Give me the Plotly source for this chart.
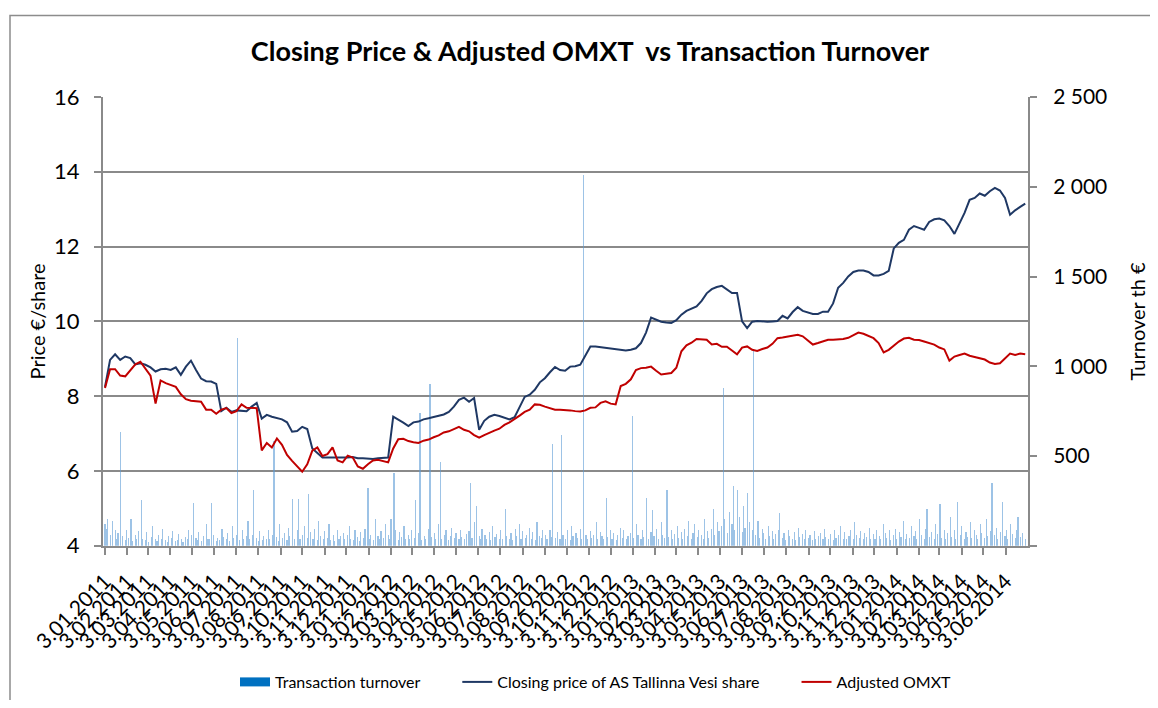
import pandas as pd
import plotly.graph_objects as go

# ---- data ----
# weekly closing price of AS Tallinna Vesi share (EUR), weeks starting 3.01.2011
price = [
    8.25, 8.97, 9.12, 8.97, 9.06, 9.02, 8.85, 8.88, 8.84, 8.77,
    8.66, 8.72, 8.73, 8.70, 8.77, 8.57, 8.79, 8.95, 8.70, 8.47,
    8.40, 8.39, 8.33, 7.60, 7.69, 7.58, 7.62, 7.62, 7.60, 7.72,
    7.82, 7.40, 7.50, 7.45, 7.42, 7.38, 7.30, 7.05, 7.07, 7.18,
    7.12, 6.60, 6.48, 6.36, 6.36, 6.36, 6.34, 6.35, 6.36, 6.37,
    6.34, 6.34, 6.33, 6.32, 6.34, 6.34, 6.36, 7.45, 7.38, 7.29,
    7.20, 7.30, 7.32, 7.38, 7.41, 7.44, 7.47, 7.51, 7.58, 7.72,
    7.90, 7.96, 7.85, 7.95, 7.10, 7.34, 7.45, 7.50, 7.47, 7.42,
    7.38, 7.44, 7.70, 7.98, 8.04, 8.17, 8.37, 8.48, 8.64, 8.78,
    8.70, 8.68, 8.79, 8.80, 8.84, 9.10, 9.33, 9.33, 9.31, 9.30,
    9.28, 9.25, 9.24, 9.22, 9.24, 9.28, 9.42, 9.70, 10.10, 10.05,
    9.99, 9.97, 9.96, 10.03, 10.18, 10.28, 10.33, 10.40, 10.55, 10.75,
    10.86, 10.92, 10.95, 10.86, 10.76, 10.76, 10.00, 9.82, 9.99, 10.01,
    10.00, 9.99, 10.00, 10.01, 10.15, 10.08, 10.25, 10.38, 10.28, 10.23,
    10.20, 10.20, 10.26, 10.26, 10.48, 10.90, 11.03, 11.20, 11.32, 11.36,
    11.36, 11.32, 11.23, 11.23, 11.27, 11.35, 11.95, 12.10, 12.18, 12.45,
    12.55, 12.50, 12.45, 12.66, 12.73, 12.75, 12.70, 12.55, 12.34, 12.62,
    12.90, 13.25, 13.30, 13.42, 13.36, 13.48, 13.57, 13.50, 13.30, 12.85,
    12.97, 13.06, 13.15,
]

# weekly adjusted OMXT (price scale)
omxt = [
    8.22, 8.72, 8.72, 8.55, 8.53, 8.70, 8.85, 8.92, 8.75, 8.55,
    7.80, 8.42, 8.35, 8.29, 8.25, 8.05, 7.92, 7.88, 7.87, 7.85,
    7.64, 7.64, 7.53, 7.64, 7.68, 7.55, 7.60, 7.78, 7.69, 7.68,
    7.68, 6.55, 6.75, 6.63, 6.87, 6.70, 6.43, 6.27, 6.12, 5.98,
    6.18, 6.54, 6.63, 6.40, 6.45, 6.63, 6.28, 6.23, 6.41, 6.36,
    6.12, 6.06, 6.18, 6.28, 6.30, 6.26, 6.23, 6.60, 6.85, 6.86,
    6.80, 6.77, 6.75, 6.81, 6.84, 6.90, 6.95, 7.03, 7.06, 7.12,
    7.18, 7.10, 7.06, 6.96, 6.89, 6.96, 7.03, 7.08, 7.13, 7.23,
    7.30, 7.38, 7.48, 7.58, 7.64, 7.78, 7.77, 7.72, 7.67, 7.64,
    7.64, 7.64, 7.62, 7.60, 7.59, 7.62, 7.69, 7.70, 7.82, 7.86,
    7.80, 7.78, 8.27, 8.33, 8.45, 8.70, 8.75, 8.76, 8.79, 8.68,
    8.58, 8.60, 8.62, 8.76, 9.20, 9.36, 9.43, 9.53, 9.51, 9.51,
    9.38, 9.40, 9.32, 9.32, 9.22, 9.12, 9.30, 9.33, 9.24, 9.21,
    9.26, 9.30, 9.40, 9.55, 9.57, 9.59, 9.62, 9.64, 9.60, 9.48,
    9.38, 9.42, 9.47, 9.51, 9.51, 9.51, 9.53, 9.56, 9.64, 9.70,
    9.67, 9.60, 9.55, 9.42, 9.17, 9.24, 9.36, 9.46, 9.54, 9.56,
    9.51, 9.50, 9.46, 9.42, 9.38, 9.30, 9.25, 8.95, 9.06, 9.10,
    9.14, 9.08, 9.05, 9.02, 8.98, 8.90, 8.86, 8.88, 9.02, 9.14,
    9.10, 9.14, 9.12,
]

# transaction turnover (th EUR), every second trading day
turnover = [
    120, 95, 150, 60, 140, 85, 40, 70, 635, 55, 30, 90, 45, 150, 25, 60, 35, 80, 254, 40,
    30, 75, 20, 50, 110, 35, 25, 60, 40, 95, 30, 20, 55, 45, 80, 25, 30, 65, 40, 20,
    50, 35, 90, 60, 240, 45, 30, 75, 25, 55, 120, 40, 35, 240, 60, 25, 45, 30, 95, 50,
    35, 70, 25, 110, 45, 60, 1160, 30, 85, 40, 55, 140, 35, 60, 310, 45, 25, 80, 30, 55,
    40, 90, 35, 60, 586, 50, 25, 120, 45, 70, 30, 100, 55, 262, 40, 85, 261, 35, 60, 110,
    45, 289, 75, 40, 95, 30, 140, 55, 35, 80, 45, 120, 30, 60, 25, 90, 40, 55, 70, 35,
    60, 110, 40, 30, 85, 50, 25, 75, 45, 95, 320, 40, 60, 30, 150, 55, 35, 80, 45, 120,
    60, 40, 150, 405, 90, 30, 75, 50, 110, 40, 60, 35, 85, 45, 254, 70, 741, 30, 55, 40,
    95, 901, 50, 70, 35, 120, 468, 40, 60, 85, 30, 55, 100, 45, 70, 35, 90, 50, 40, 65,
    80, 348, 45, 130, 221, 55, 35, 95, 60, 40, 75, 30, 110, 50, 65, 40, 85, 35, 206, 55,
    40, 70, 30, 95, 55, 120, 35, 80, 45, 60, 100, 40, 75, 30, 130, 55, 45, 85, 60, 40,
    90, 50, 566, 45, 75, 35, 615, 60, 40, 85, 30, 110, 55, 70, 45, 95, 40, 2068, 60, 35,
    80, 45, 60, 130, 40, 75, 55, 35, 265, 50, 90, 40, 70, 30, 60, 100, 45, 85, 35, 55,
    70, 723, 45, 120, 60, 35, 90, 50, 265, 40, 75, 199, 55, 95, 40, 130, 60, 45, 308, 50,
    85, 40, 65, 110, 45, 75, 35, 95, 55, 140, 40, 70, 120, 50, 90, 60, 35, 150, 80, 45,
    95, 206, 60, 130, 80, 110, 879, 150, 70, 190, 120, 335, 90, 311, 160, 75, 220, 100, 293, 130,
    85, 1083, 60, 140, 45, 95, 70, 40, 110, 55, 80, 35, 65, 90, 182, 45, 70, 30, 85, 55,
    40, 75, 30, 100, 50, 65, 35, 90, 45, 60, 30, 80, 40, 55, 70, 35, 95, 50, 40, 65,
    30, 85, 45, 60, 110, 40, 75, 35, 55, 90, 40, 130, 60, 45, 80, 35, 70, 50, 100, 40,
    65, 35, 90, 55, 40, 120, 70, 45, 85, 30, 60, 95, 40, 75, 50, 140, 35, 65, 45, 110,
    55, 80, 40, 150, 60, 35, 95, 206, 50, 75, 40, 120, 65, 234, 45, 90, 35, 70, 160, 50,
    85, 40, 243, 60, 110, 35, 75, 50, 130, 45, 90, 60, 35, 120, 70, 45, 150, 55, 80, 348,
    60, 100, 40, 75, 243, 55, 90, 35, 120, 65, 45, 85, 160, 50, 70, 40,
]

series_names = [
    "Transaction turnover",
    "Closing price of AS Tallinna Vesi share",
    "Adjusted OMXT",
]

# monthly category ticks
tick_dates = pd.date_range("2011-01-03", "2014-06-03", freq=pd.DateOffset(months=1))
tick_labels = [f"{d.day}.{d.month:02d}.{d.year}" for d in tick_dates]

week_dates = pd.date_range("2011-01-03", periods=len(price), freq="7D")
turn_dates = pd.bdate_range("2011-01-03", periods=len(turnover), freq="2B")

FONT = "Lato"
GRID = "#8a8a8a"
PAD = "\u2003\u2003\u2002"  # extra gap after a legend entry

fig = go.Figure()

# bars on primary (right side) axis so that lines are drawn above them
fig.add_trace(go.Bar(
    x=turn_dates, y=turnover, yaxis="y",
    marker=dict(color="rgba(91,155,213,0.6)", line=dict(width=0)),
    width=1.6 * 86400000, showlegend=False, hoverinfo="x+y",
))
# legend entry for the bars (wide block like the original)
fig.add_trace(go.Scatter(
    x=[None], y=[None], yaxis="y", mode="lines",
    line=dict(color="#0070C0", width=9), name=series_names[0] + PAD,
))
fig.add_trace(go.Scatter(
    x=week_dates, y=price, yaxis="y2", mode="lines",
    line=dict(color="#1F3864", width=2),
    name=series_names[1] + PAD,
))
fig.add_trace(go.Scatter(
    x=week_dates, y=omxt, yaxis="y2", mode="lines",
    line=dict(color="#C00000", width=2),
    name=series_names[2],
))

# the page body has an 8px margin, so figure coords = window coords - 8;
# the figure is sized so the page does not overflow the 1158x708 window
W, H = 1142, 692
OFF = 8
L, R, T, B = 103 - OFF, 1028 - OFF, 97 - OFF, 549 - OFF
pw, ph = R - L, B - T


def px_x(x):
    return (x - OFF - L) / pw


def px_y(y):
    return (B - (y - OFF)) / ph


fig.update_layout(
    width=W, height=H,
    margin=dict(l=L, r=W - R, t=T, b=H - B),
    paper_bgcolor="white", plot_bgcolor="white",
    font=dict(family=FONT, color="black", size=21),
    title=dict(
        text="<b>Closing Price & Adjusted OMXT  vs Transaction Turnover</b>",
        x=px_x(590), xref="paper", xanchor="center",
        y=1 - (52 - OFF) / H, yref="container", yanchor="middle",
        font=dict(family=FONT, size=27, color="black"),
    ),
    xaxis=dict(
        type="date",
        range=["2010-12-31 05:30", "2014-07-03 20:00"],
        tickvals=tick_dates, ticktext=tick_labels,
        tickangle=-45, ticks="outside", ticklen=7, tickwidth=1.5,
        tickcolor=GRID, showline=True, linecolor=GRID, linewidth=2,
        showgrid=False, zeroline=False, ticklabelstandoff=6,
        tickfont=dict(family=FONT, size=21, color="black"),
    ),
    yaxis=dict(
        side="right", range=[0, 2500],
        tickvals=[0, 500, 1000, 1500, 2000, 2500],
        ticktext=["", "500", "1 000", "1 500", "2 000", "2 500"],
        ticks="outside", ticklen=7, tickwidth=1.5, tickcolor=GRID,
        showline=True, linecolor=GRID, linewidth=2,
        showgrid=False, zeroline=False, ticklabelstandoff=12,
        tickfont=dict(family=FONT, size=21, color="black"),
    ),
    yaxis2=dict(
        side="left", overlaying="y", range=[4, 16], dtick=2, tick0=4,
        ticks="outside", ticklen=7, tickwidth=1.5, tickcolor=GRID,
        showline=True, linecolor=GRID, linewidth=2,
        showgrid=True, gridcolor=GRID, gridwidth=2, zeroline=False,
        ticklabelstandoff=10,
        tickfont=dict(family=FONT, size=22, color="black"),
    ),
    bargap=0,
    legend=dict(
        orientation="h", x=px_x(596), xanchor="center",
        y=1 - (682 - OFF) / H, yref="container", yanchor="middle",
        font=dict(family=FONT, size=16, color="black"),
        bgcolor="rgba(0,0,0,0)",
    ),
    annotations=[
        dict(text="Price €/share", x=px_x(37), y=0.5, xref="paper", yref="paper",
             xanchor="center", yanchor="middle", textangle=-90, showarrow=False,
             font=dict(family=FONT, size=20, color="black")),
        dict(text="Turnover th €", x=px_x(1137), y=0.5, xref="paper", yref="paper",
             xanchor="center", yanchor="middle", textangle=-90, showarrow=False,
             font=dict(family=FONT, size=20, color="black")),
    ],
    shapes=[
        dict(type="rect", xref="paper", yref="paper",
             x0=px_x(10), x1=px_x(1200), y0=px_y(760), y1=px_y(15),
             line=dict(color="#8c8c8c", width=1.5), fillcolor="rgba(0,0,0,0)",
             layer="below"),
    ],
)

fig.write_html("out.html")
